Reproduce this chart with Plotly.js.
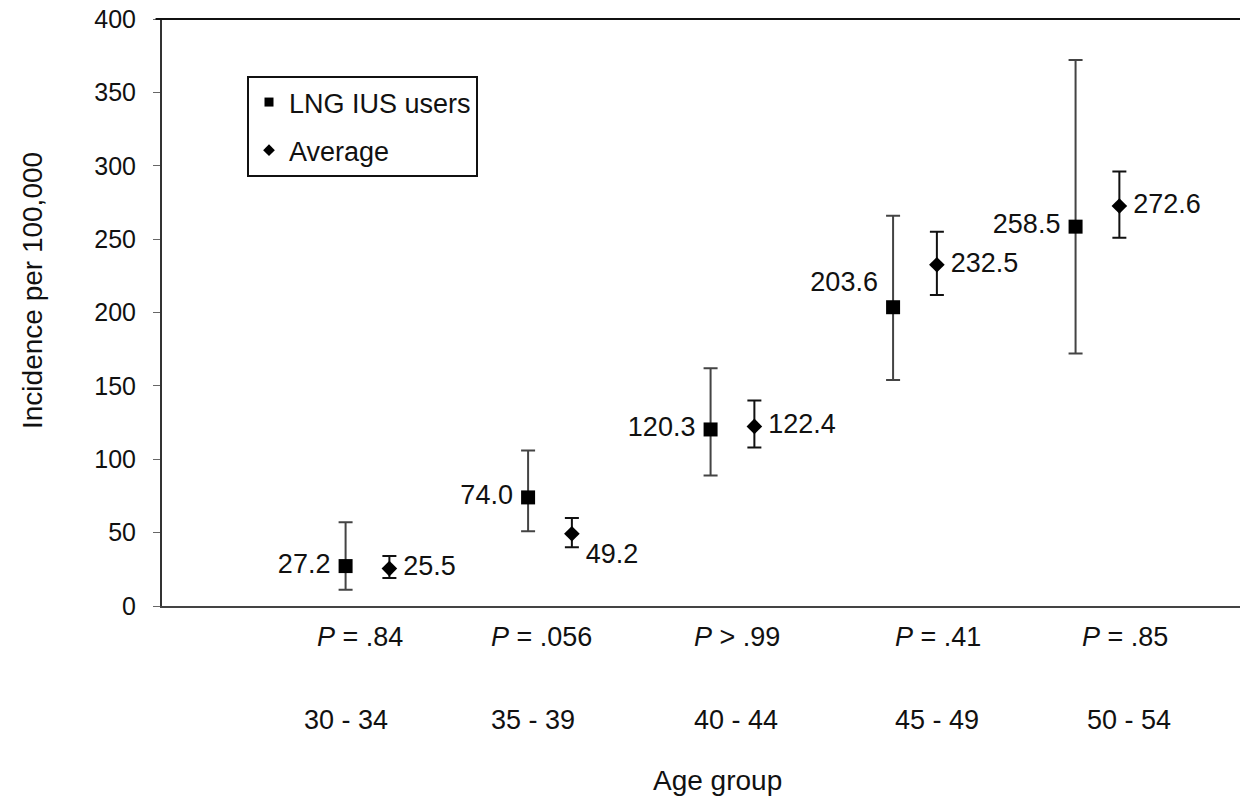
<!DOCTYPE html>
<html>
<head>
<meta charset="utf-8">
<script src="https://cdn.plot.ly/plotly-3.0.1.min.js"></script>
<style>html,body{margin:0;padding:0;background:#fff;overflow:hidden}</style>
</head>
<body>
<div id="chart" style="width:1240px;height:796px"></div>
<script>
// ---- data ----
const ageGroups = ["30 - 34", "35 - 39", "40 - 44", "45 - 49", "50 - 54"];
const pValues = ["<i>P</i> = .84", "<i>P</i> = .056", "<i>P</i> > .99", "<i>P</i> = .41", "<i>P</i> = .85"];
const lngValues = [27.2, 74.0, 120.3, 203.6, 258.5];
const lngUpper  = [57, 106, 162, 266, 372];
const lngLower  = [11, 51, 89, 154, 172];
const avgValues = [25.5, 49.2, 122.4, 232.5, 272.6];
const avgUpper  = [34, 60, 140, 255, 296];
const avgLower  = [19, 40, 108, 212, 251];

// ---- layout helpers ----
const FONT = "Liberation Sans, Arial, Helvetica, sans-serif";
const groupPos = ageGroups.map((_, i) => i + 1);
const offset = 0.12;
const lngX = groupPos.map(p => p - offset);
const avgX = groupPos.map(p => p + offset);

const lngTrace = {
  type: "scatter", mode: "markers+text", name: "LNG IUS users", showlegend: false,
  x: lngX, y: lngValues,
  text: lngValues.map(v => v.toFixed(1) + "\u2009"),
  textposition: ["middle left", "middle left", "middle left", "top left", "middle left"],
  textfont: {family: FONT, size: 27, color: "#111"},
  marker: {symbol: "square", size: 14, color: "#000"},
  error_y: {type: "data", symmetric: false,
    array: lngValues.map((v, i) => lngUpper[i] - v),
    arrayminus: lngValues.map((v, i) => v - lngLower[i]),
    color: "#444", thickness: 2, width: 7},
  cliponaxis: false
};
const avgTrace = {
  type: "scatter", mode: "markers+text", name: "Average", showlegend: false,
  x: avgX, y: avgValues,
  text: avgValues.map(v => "\u2009" + v.toFixed(1)),
  textposition: ["middle right", "bottom right", "middle right", "middle right", "middle right"],
  textfont: {family: FONT, size: 27, color: "#111"},
  marker: {symbol: "diamond", size: 12, color: "#000"},
  error_y: {type: "data", symmetric: false,
    array: avgValues.map((v, i) => avgUpper[i] - v),
    arrayminus: avgValues.map((v, i) => v - avgLower[i]),
    color: "#111", thickness: 2, width: 7},
  cliponaxis: false
};
// legend entries (small symbols as in the original legend)
const lngLegend = {type: "scatter", mode: "markers", name: "LNG IUS users", x: [null], y: [null],
  legendgroup: "a", marker: {symbol: "square", size: 9, color: "#000"}};
const avgLegend = {type: "scatter", mode: "markers", name: "Average", x: [null], y: [null],
  legendgroup: "b", marker: {symbol: "diamond", size: 9, color: "#000"}};

// pixel helpers for the label placement (plot area 162..1240 px wide, 19..606 px tall)
const L = 162, R = 1240, T = 19, B = 606;
const px2paperX = px => (px - L) / (R - L);
const px2paperY = py => (B - py) / (B - T);
const pLeft = [315, 489, 692, 893, 1080];
const catLeft = [302, 489, 692, 893, 1085];

const annotations = [];
pValues.forEach((t, i) => annotations.push({
  text: t, xref: "paper", yref: "paper", x: px2paperX(pLeft[i]), y: px2paperY(637),
  xanchor: "left", yanchor: "middle", showarrow: false,
  font: {family: FONT, size: 27, color: "#111"}
}));
ageGroups.forEach((t, i) => annotations.push({
  text: t, xref: "paper", yref: "paper", x: px2paperX(catLeft[i]), y: px2paperY(720),
  xanchor: "left", yanchor: "middle", showarrow: false,
  font: {family: FONT, size: 27, color: "#111"}
}));
annotations.push({
  text: "Age group", xref: "paper", yref: "paper", x: px2paperX(717), y: px2paperY(781),
  xanchor: "center", yanchor: "middle", showarrow: false,
  font: {family: FONT, size: 28, color: "#111"}
});
annotations.push({
  text: "Incidence per 100,000", xref: "paper", yref: "paper", x: px2paperX(32), y: px2paperY(291),
  xanchor: "center", yanchor: "middle", showarrow: false, textangle: -90,
  font: {family: FONT, size: 28, color: "#111"}
});

const layout = {
  width: 1240, height: 796,
  margin: {l: L, r: 1240 - R, t: T, b: 796 - B, pad: 0},
  paper_bgcolor: "#fff", plot_bgcolor: "#fff",
  showlegend: true,
  legend: {
    x: px2paperX(247), y: px2paperY(76), xanchor: "left", yanchor: "top",
    bordercolor: "#111", borderwidth: 2, bgcolor: "#fff",
    font: {family: FONT, size: 27, color: "#111"},
    traceorder: "grouped", tracegroupgap: 10, itemwidth: 30
  },
  xaxis: {
    range: [-0.126, 5.781], showgrid: false, zeroline: false,
    showticklabels: false, ticks: "", showline: true, linecolor: "#444", linewidth: 2,
    fixedrange: true
  },
  yaxis: {
    range: [0, 400], dtick: 50, tick0: 0, showgrid: false, zeroline: false,
    showline: true, linecolor: "#333", linewidth: 2,
    ticks: "outside", ticklen: 7, tickcolor: "#666", tickwidth: 1,
    ticklabelstandoff: 12,
    tickfont: {family: FONT, size: 25, color: "#111"},
    fixedrange: true
  },
  shapes: [{
    type: "line", xref: "paper", yref: "paper", x0: -0.006, x1: 1, y0: 1, y1: 1,
    line: {color: "#111", width: 2}
  }],
  annotations: annotations
};

Plotly.newPlot("chart", [lngTrace, avgTrace, lngLegend, avgLegend], layout, {displayModeBar: false, staticPlot: true});
</script>
</body>
</html>
